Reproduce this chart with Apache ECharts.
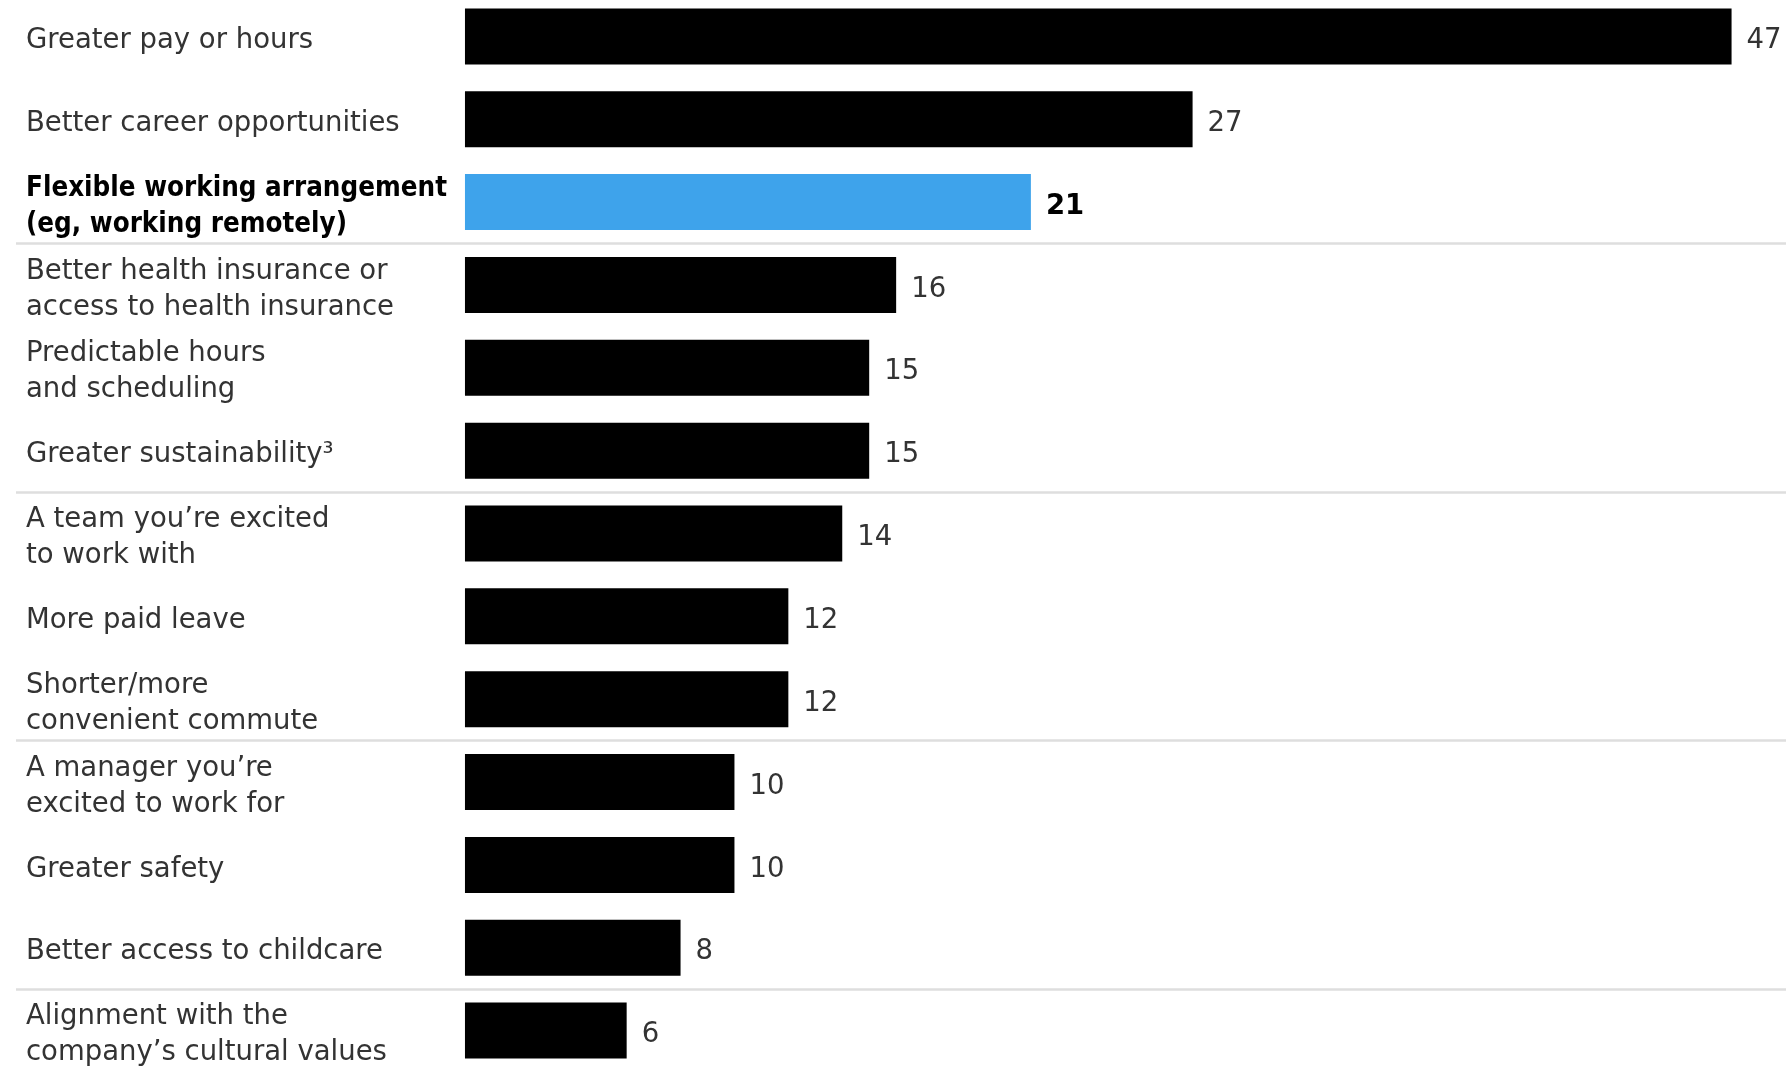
<!DOCTYPE html>
<html>
<head>
<meta charset="utf-8">
<script src="https://cdn.jsdelivr.net/npm/echarts@6/dist/echarts.min.js"></script>
<style>
  html, body { margin: 0; padding: 0; background: #fff; overflow: hidden; width: 1786px; height: 1066px; }
  #main { position: absolute; left: 0; top: -5.5px; width: 1786px; height: 1077px; }
</style>
</head>
<body>
<div id="main"></div>
<script>
var categories = [
  'Greater pay or hours',
  'Better career opportunities',
  'Flexible working arrangement\n(eg, working remotely)',
  'Better health insurance or\naccess to health insurance',
  'Predictable hours\nand scheduling',
  'Greater sustainability³',
  'A team you’re excited\nto work with',
  'More paid leave',
  'Shorter/more\nconvenient commute',
  'A manager you’re\nexcited to work for',
  'Greater safety',
  'Better access to childcare',
  'Alignment with the\ncompany’s cultural values'
];
var values = [47, 27, 21, 16, 15, 15, 14, 12, 12, 10, 10, 8, 6];
var highlightIndex = 2;
var groupBreaks = [3, 6, 9, 12]; // thin rule above these rows

var chart = echarts.init(document.getElementById('main'));

var option = {
  animation: false,
  grid: { left: 16, right: 0, top: 0, bottom: 0, containLabel: false },
  xAxis: {
    type: 'value',
    min: -16.66,
    max: 49.02,
    show: false
  },
  yAxis: {
    type: 'category',
    inverse: true,
    data: categories,
    axisLine: { show: false },
    axisTick: { show: false },
    splitLine: {
      show: true,
      interval: function (index) { return groupBreaks.indexOf(index) >= 0; },
      lineStyle: { color: '#dedede', width: 2.5 }
    },
    axisLabel: {
      inside: true,
      interval: 0,
      margin: 10,
      align: 'left',
      padding: [9, 0, 0, 0],
      color: '#333',
      fontFamily: 'DejaVu Sans',
      fontSize: 27.5,
      lineHeight: 36,
      formatter: function (v, i) {
        if (i === highlightIndex) {
          return v.split('\n').map(function (s) { return '{b|' + s + '}'; }).join('\n');
        }
        return v;
      },
      rich: {
        b: {
          fontWeight: 'bold', color: '#000',
          fontFamily: "'DejaVu Sans Condensed', 'Liberation Sans'",
          fontSize: 27.5, lineHeight: 36
        }
      }
    }
  },
  series: [{
    type: 'bar',
    barWidth: 56,
    data: values.map(function (v, i) {
      if (i === highlightIndex) {
        return {
          value: v,
          itemStyle: { color: '#3ea3eb' },
          label: { fontWeight: 'bold', color: '#000' }
        };
      }
      return v;
    }),
    itemStyle: { color: '#000' },
    label: {
      show: true,
      position: 'right',
      distance: 15,
      offset: [0, 4.5],
      color: '#333',
      fontFamily: 'DejaVu Sans',
      fontSize: 27.5
    }
  }]
};

chart.setOption(option);
</script>
</body>
</html>
